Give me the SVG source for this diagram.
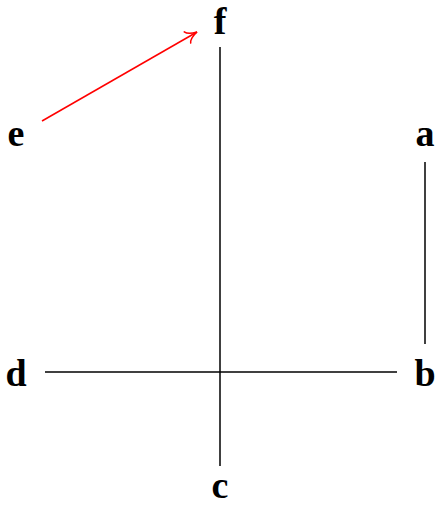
<svg xmlns="http://www.w3.org/2000/svg" width="441" height="505" viewBox="0 0 441 505">
<style>
text{font-family:"Liberation Serif","DejaVu Serif",serif;font-weight:bold;font-size:38px;text-anchor:middle;fill:#000}
.e{stroke:#000;stroke-width:1.5;fill:none}
.r{stroke:#f00;stroke-width:1.5;fill:none}
</style>
<defs>
<marker id="ah" markerWidth="16" markerHeight="16" refX="13" refY="8" orient="auto" markerUnits="userSpaceOnUse">
<path d="M2,1.5 Q4,6 13,8 Q4,10 2,14.5" fill="none" stroke="#f00" stroke-width="1.5" stroke-linecap="round"/>
</marker>
</defs>
<rect width="441" height="505" fill="#fff"/>
<g id="connectors">
<line class="e" x1="220" y1="47" x2="220" y2="466"/>
<line class="e" x1="45" y1="372" x2="397" y2="372"/>
<line class="e" x1="425" y1="162" x2="425" y2="344"/>
<line class="r" x1="42" y1="121" x2="197" y2="32" marker-end="url(#ah)"/>
</g>
<g id="f"><text x="220" y="34">f</text></g>
<g id="e"><text x="16" y="146">e</text></g>
<g id="a"><text x="425" y="146">a</text></g>
<g id="d"><text x="16" y="386">d</text></g>
<g id="b"><text x="425" y="386">b</text></g>
<g id="c"><text x="220" y="498">c</text></g>
</svg>
